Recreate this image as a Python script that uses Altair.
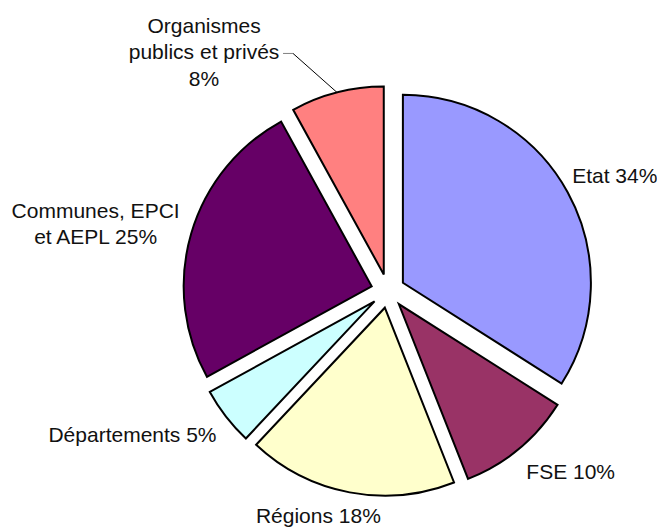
import altair as alt
import pandas as pd

categories = ["Etat", "FSE", "Régions", "Départements",
              "Communes, EPCI et AEPL", "Organismes publics et privés"]
values = [34, 10, 18, 5, 25, 8]
labels = ["Etat 34%", "FSE 10%", "Régions 18%", "Départements 5%",
          "Communes, EPCI\net AEPL 25%", "Organismes\npublics et privés\n8%"]
colors = ["#9999FF", "#993366", "#FFFFCC", "#CCFFFF", "#660066", "#FF8080"]

df = pd.DataFrame({"category": categories, "value": values,
                   "label": labels, "order": list(range(len(categories)))})

W, H = 649, 521
CX, CY = 380, 283          # pie centre inside the plot area (pixels)
R = 188                    # pie radius
EXPLODE = 17               # explosion distance
LRX, LRY = 217, 236        # label ellipse radii
FONT = "Liberation Sans"
FS = 21
LH = 26.5

xs = alt.Scale(domain=[-CX, W - CX])
ys = alt.Scale(domain=[-(H - CY), CY])

base = (
    alt.Chart(df)
    .transform_joinaggregate(total="sum(value)")
    .transform_window(cum="sum(value)", sort=[alt.SortField("order")])
    .transform_calculate(
        start="(datum.cum - datum.value) / datum.total",
        end="datum.cum / datum.total",
    )
    .transform_calculate(mid="PI * (datum.start + datum.end)")
    .transform_calculate(
        ox=f"{EXPLODE} * sin(datum.mid)",
        oy=f"{EXPLODE} * cos(datum.mid)",
        lx=f"{LRX} * sin(datum.mid)",
        ly=f"{LRY} * cos(datum.mid)",
        px=f"{EXPLODE + R} * sin(datum.mid)",
        py=f"{EXPLODE + R} * cos(datum.mid)",
    )
)

arcs = base.mark_arc(radius=R, stroke="black", strokeWidth=2).encode(
    x=alt.X("ox:Q", scale=xs, axis=None),
    y=alt.Y("oy:Q", scale=ys, axis=None),
    theta=alt.Theta("start:Q", scale=alt.Scale(domain=[0, 1]), stack=False),
    theta2="end:Q",
    color=alt.Color("category:N", scale=alt.Scale(domain=categories, range=colors), legend=None),
)

def text_layer(cats, **kw):
    return base.transform_filter(
        alt.FieldOneOfPredicate(field="category", oneOf=cats)
    ).mark_text(font=FONT, fontSize=FS, lineBreak="\n", lineHeight=LH,
                color="#111111", baseline="middle", **kw).encode(
        x=alt.X("lx:Q", scale=xs, axis=None),
        y=alt.Y("ly:Q", scale=ys, axis=None),
        text="label:N",
    )

t_etat = text_layer(["Etat"], align="left", dx=-6)
t_fse = text_layer(["FSE"], align="left")
t_dep = text_layer(["Départements"], align="right")
t_com = text_layer(["Communes, EPCI et AEPL"], align="center", dx=-84, dy=-LH / 2)
t_bottom = text_layer(["Régions"], align="center", dx=-29, dy=-6)
t_org = text_layer(["Organismes publics et privés"], align="center", dx=-130, dy=-9 - LH)

org = base.transform_filter(alt.datum.category == "Organismes publics et privés")
leader1 = org.transform_calculate(
    ex="datum.px - 44", ey="datum.py + 39"
).mark_rule(color="black", strokeWidth=1).encode(
    x=alt.X("px:Q", scale=xs, axis=None),
    y=alt.Y("py:Q", scale=ys, axis=None),
    x2="ex:Q", y2="ey:Q",
)
leader2 = org.transform_calculate(
    ex="datum.px - 44", ey="datum.py + 39", fx="datum.px - 54"
).mark_rule(color="#808080", strokeWidth=1).encode(
    x=alt.X("ex:Q", scale=xs, axis=None),
    y=alt.Y("ey:Q", scale=ys, axis=None),
    x2="fx:Q",
)

chart = alt.layer(arcs, leader1, leader2, t_etat, t_fse, t_dep, t_com, t_bottom, t_org).properties(
    width=W, height=H, padding=0, autosize="none"
).configure_view(stroke=None)

chart.save("out.html", embed_options={"renderer": "svg", "actions": False})
